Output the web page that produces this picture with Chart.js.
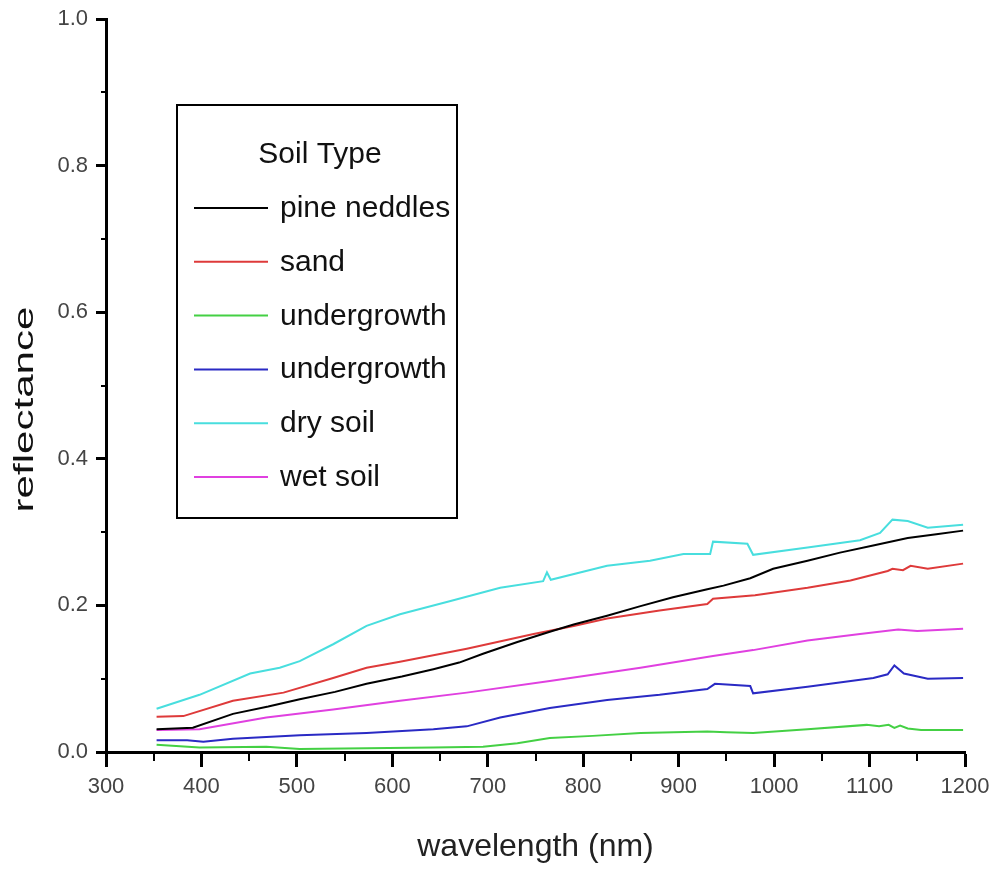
<!DOCTYPE html>
<html>
<head>
<meta charset="utf-8">
<title>Soil reflectance spectra</title>
<script src="https://cdn.jsdelivr.net/npm/chart.js@4.4.1/dist/chart.umd.min.js"></script>
<style>
  html, body { margin: 0; padding: 0; background: #ffffff; }
  canvas { display: block; background: #ffffff; }
</style>
</head>
<body>
<canvas id="spectra" width="992" height="871"></canvas>
<script>
// Wavelength (nm) and reflectance samples for each surface type
const wlPine = [353, 391, 433, 470, 503, 540, 573, 610, 643, 670, 695, 731, 765, 790, 825, 860, 894, 930, 947, 975, 999, 1035, 1069, 1105, 1140, 1170, 1198];
const rPine  = [0.031, 0.033, 0.052, 0.062, 0.072, 0.082, 0.093, 0.103, 0.113, 0.122, 0.134, 0.150, 0.164, 0.174, 0.186, 0.199, 0.211, 0.222, 0.227, 0.237, 0.250, 0.261, 0.272, 0.282, 0.292, 0.297, 0.302];

const wlSand = [353, 381, 433, 486, 538, 573, 608, 678, 748, 790, 825, 880, 930, 936, 980, 1035, 1080, 1119, 1124, 1135, 1143, 1161, 1198];
const rSand  = [0.048, 0.049, 0.070, 0.081, 0.101, 0.115, 0.123, 0.141, 0.161, 0.172, 0.182, 0.193, 0.202, 0.209, 0.214, 0.224, 0.234, 0.247, 0.250, 0.248, 0.254, 0.250, 0.257];

const wlUnder1 = [353, 398, 468, 503, 573, 643, 695, 731, 765, 810, 860, 930, 950, 978, 1035, 1097, 1110, 1120, 1126, 1132, 1140, 1154, 1198];
const rUnder1  = [0.010, 0.006, 0.007, 0.004, 0.005, 0.006, 0.007, 0.012, 0.019, 0.022, 0.026, 0.028, 0.027, 0.026, 0.031, 0.037, 0.035, 0.037, 0.033, 0.036, 0.032, 0.030, 0.030];

const wlUnder2 = [353, 385, 402, 433, 503, 573, 643, 678, 713, 765, 825, 880, 930, 938, 975, 978, 1035, 1104, 1119, 1126, 1136, 1161, 1198];
const rUnder2  = [0.016, 0.016, 0.014, 0.018, 0.023, 0.026, 0.031, 0.035, 0.047, 0.060, 0.071, 0.078, 0.086, 0.093, 0.090, 0.080, 0.089, 0.101, 0.106, 0.118, 0.107, 0.100, 0.101];

const wlDry = [353, 398, 451, 482, 503, 538, 573, 608, 661, 713, 758, 762, 766, 825, 870, 905, 933, 936, 972, 978, 1035, 1090, 1111, 1124, 1140, 1161, 1198];
const rDry  = [0.059, 0.078, 0.107, 0.115, 0.124, 0.147, 0.172, 0.188, 0.206, 0.224, 0.233, 0.245, 0.235, 0.254, 0.261, 0.270, 0.270, 0.287, 0.284, 0.269, 0.279, 0.289, 0.299, 0.317, 0.315, 0.306, 0.310];

const wlWet = [353, 398, 468, 538, 608, 678, 765, 860, 936, 978, 1035, 1090, 1130, 1150, 1198];
const rWet  = [0.030, 0.031, 0.047, 0.058, 0.070, 0.081, 0.097, 0.115, 0.131, 0.139, 0.152, 0.161, 0.167, 0.165, 0.168];

const seriesNames = ['pine neddles', 'sand', 'undergrowth', 'undergrowth', 'dry soil', 'wet soil'];
const seriesColors = ['#000000', '#de3a3a', '#44d044', '#2a2ac4', '#48dede', '#e040e0'];
const seriesX = [wlPine, wlSand, wlUnder1, wlUnder2, wlDry, wlWet];
const seriesY = [rPine, rSand, rUnder1, rUnder2, rDry, rWet];

const xTickValues = [300, 400, 500, 600, 700, 800, 900, 1000, 1100, 1200];
const yTickValues = [0.0, 0.2, 0.4, 0.6, 0.8, 1.0];
const xMinorTicks = [350, 450, 550, 650, 750, 850, 950, 1050, 1150];
const yMinorTicks = [0.1, 0.3, 0.5, 0.7, 0.9];

const legendTitle = 'Soil Type';
const xAxisTitle = 'wavelength (nm)';
const yAxisTitle = 'reflectance';
const textFont = "'Liberation Sans', Arial, sans-serif";

const datasets = seriesNames.map((name, i) => ({
  label: name,
  data: seriesX[i].map((x, j) => ({ x: x, y: seriesY[i][j] })),
  borderColor: seriesColors[i],
  backgroundColor: seriesColors[i],
  borderWidth: 2,
  pointRadius: 0,
  tension: 0,
  fill: false
}));

// Short minor ticks between the labelled ones
const minorTicks = {
  id: 'minorTicks',
  afterDraw(chart) {
    const { ctx, scales: { x, y } } = chart;
    ctx.save();
    ctx.strokeStyle = '#000';
    ctx.lineWidth = 2;
    xMinorTicks.forEach(v => {
      const px = Math.round(x.getPixelForValue(v));
      ctx.beginPath();
      ctx.moveTo(px, x.top);
      ctx.lineTo(px, x.top + 9);
      ctx.stroke();
    });
    yMinorTicks.forEach(v => {
      const py = Math.round(y.getPixelForValue(v));
      ctx.beginPath();
      ctx.moveTo(y.right, py);
      ctx.lineTo(y.right - 5, py);
      ctx.stroke();
    });
    ctx.restore();
  }
};

// Vertical axis caption, stretched along the axis
const yCaption = {
  id: 'yCaption',
  afterDraw(chart, args, opts) {
    const { ctx, chartArea } = chart;
    ctx.save();
    ctx.font = opts.fontSize + 'px ' + textFont;
    ctx.fillStyle = '#111';
    ctx.textAlign = 'center';
    ctx.textBaseline = 'alphabetic';
    const w = ctx.measureText(opts.text).width;
    ctx.translate(opts.baselineX, (chartArea.top + chartArea.bottom) / 2 + opts.shift);
    ctx.rotate(-Math.PI / 2);
    ctx.scale(opts.length / w, 1);
    ctx.fillText(opts.text, 0, 0);
    ctx.restore();
  }
};

// Framed legend with a heading, placed inside the plot
const boxLegend = {
  id: 'boxLegend',
  afterDraw(chart, args, opts) {
    const { ctx } = chart;
    const b = opts.box;
    ctx.save();
    ctx.fillStyle = '#ffffff';
    ctx.fillRect(b.left, b.top, b.width, b.height);
    ctx.strokeStyle = '#000';
    ctx.lineWidth = 2;
    ctx.strokeRect(b.left, b.top, b.width, b.height);
    ctx.fillStyle = '#111';
    ctx.font = opts.fontSize + 'px ' + textFont;
    ctx.textAlign = 'center';
    ctx.textBaseline = 'alphabetic';
    ctx.fillText(opts.title, opts.titleX, opts.titleBaseline);
    ctx.textAlign = 'left';
    chart.data.datasets.forEach((ds, i) => {
      const ly = opts.firstRow + i * opts.rowStep;
      ctx.strokeStyle = ds.borderColor;
      ctx.lineWidth = 2;
      ctx.beginPath();
      ctx.moveTo(opts.lineX0, ly);
      ctx.lineTo(opts.lineX1, ly);
      ctx.stroke();
      ctx.fillStyle = '#111';
      ctx.fillText(ds.label, opts.textX, ly + opts.baselineShift);
    });
    ctx.restore();
  }
};

new Chart(document.getElementById('spectra'), {
  type: 'line',
  data: { datasets: datasets },
  plugins: [minorTicks, yCaption, boxLegend],
  options: {
    responsive: false,
    animation: false,
    events: [],
    layout: { padding: { top: 19, right: 27, bottom: 0, left: 0 } },
    plugins: {
      legend: { display: false },
      tooltip: { enabled: false },
      yCaption: { text: yAxisTitle, fontSize: 27, baselineX: 33, shift: 24, length: 206 },
      boxLegend: {
        title: legendTitle,
        fontSize: 30,
        box: { left: 177, top: 105, width: 280, height: 413 },
        titleX: 320,
        titleBaseline: 163,
        firstRow: 208,
        rowStep: 53.8,
        lineX0: 194,
        lineX1: 268,
        textX: 280,
        baselineShift: 9
      }
    },
    scales: {
      x: {
        type: 'linear',
        min: 300,
        max: 1200,
        afterBuildTicks: s => { s.ticks = xTickValues.map(v => ({ value: v })); },
        afterFit: s => { s.height = 119; s.paddingLeft = 0; s.paddingRight = 0; },
        ticks: {
          color: '#444',
          font: { family: textFont, size: 22 },
          padding: 7,
          maxRotation: 0,
          autoSkip: false,
          callback: v => String(v)
        },
        grid: { drawOnChartArea: false, drawTicks: true, tickLength: 15, tickWidth: 3, tickColor: '#000' },
        border: { display: true, color: '#000', width: 3 },
        title: {
          display: true,
          text: xAxisTitle,
          color: '#222',
          font: { family: textFont, size: 32 },
          padding: { top: 0, bottom: 5 }
        }
      },
      y: {
        type: 'linear',
        min: 0,
        max: 1,
        afterBuildTicks: s => { s.ticks = yTickValues.map(v => ({ value: v })); },
        afterFit: s => { s.width = 106; s.paddingTop = 0; s.paddingBottom = 0; },
        ticks: {
          color: '#444',
          font: { family: textFont, size: 22 },
          padding: 8,
          autoSkip: false,
          callback: v => Number(v).toFixed(1)
        },
        grid: { drawOnChartArea: false, drawTicks: true, tickLength: 10, tickWidth: 3, tickColor: '#000' },
        border: { display: true, color: '#000', width: 3 },
        title: { display: false }
      }
    }
  }
});
</script>
</body>
</html>
